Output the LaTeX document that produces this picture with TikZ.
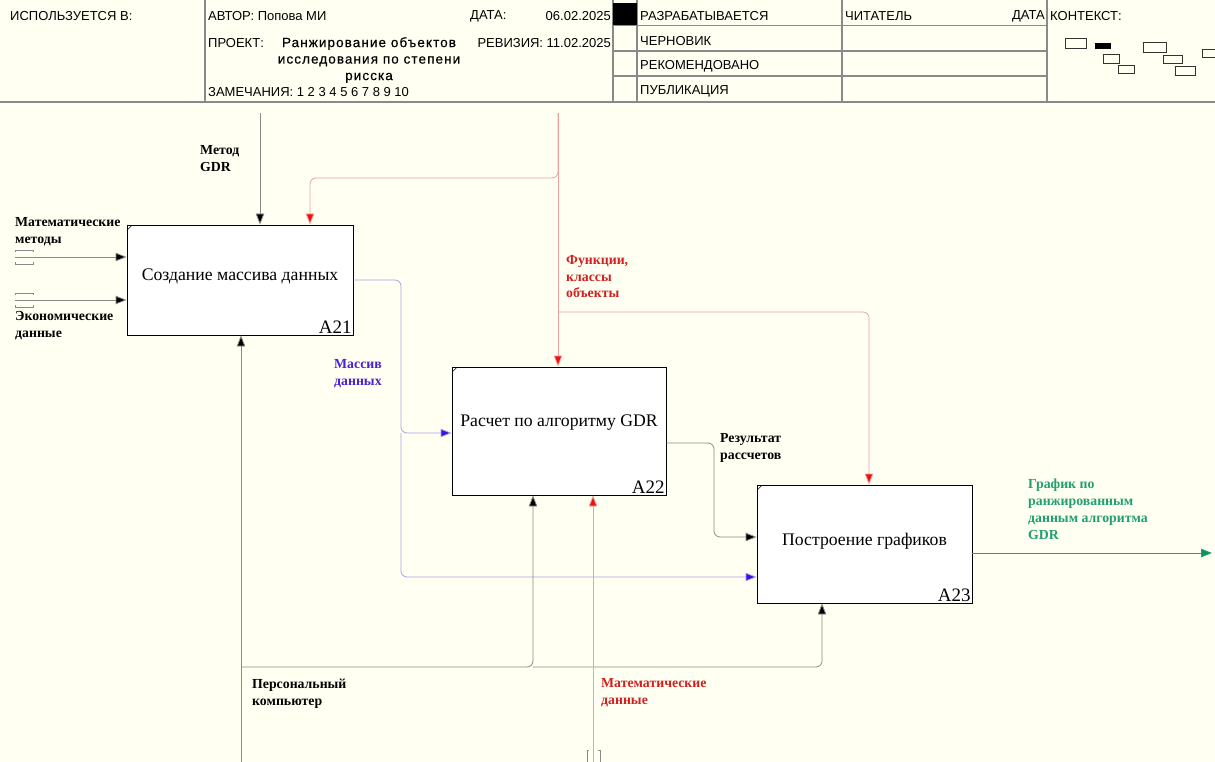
\documentclass[tikz,border=0pt]{standalone}
\usepackage{fontspec}
\setmainfont{Liberation Serif}
\newfontfamily\hdr{Liberation Sans}
\newfontfamily\hdrt{Liberation Sans}[LetterSpace=8, FakeBold=0.4]
\usetikzlibrary{arrows.meta}
\definecolor{bg}{HTML}{FFFFF2}
\definecolor{gline}{HTML}{8A8A8A}
\definecolor{rline}{HTML}{EFA0A0}
\definecolor{rtip}{HTML}{F01010}
\definecolor{rtext}{HTML}{D02020}
\definecolor{bline}{HTML}{A9A0EA}
\definecolor{btip}{HTML}{3A10E0}
\definecolor{btext}{HTML}{4A20D0}
\definecolor{gtext}{HTML}{20A070}
\definecolor{gtip}{HTML}{109060}
\tikzset{
  hline/.style={draw=gline, line width=1.3pt},
  htxt/.style={font=\hdr\fontsize{13}{15}\selectfont, inner sep=0pt, anchor=west},
  funcbox/.style={draw=black, fill=white, line width=0.8pt, inner sep=0pt},
  btxt/.style={font=\fontsize{17.7}{21}\selectfont},
  idtxt/.style={font=\fontsize{19}{21}\selectfont, inner sep=1.5pt, anchor=south east},
  lbl/.style={font=\bfseries\fontsize{13.8}{16.8}\selectfont, align=left, inner sep=0pt, anchor=north west},
  blk/.style={draw=gline, line width=0.8pt, rounded corners=6pt, -{Triangle[length=11pt,width=8.5pt,fill=black]}},
  red/.style={draw=rline, line width=0.8pt, rounded corners=6pt, -{Triangle[length=11pt,width=8.5pt,fill=rtip]}},
  blu/.style={draw=bline, line width=0.8pt, rounded corners=6pt, -{Triangle[length=11pt,width=8.5pt,fill=btip]}},
  grn/.style={draw=gtext, line width=0.8pt, -{Triangle[length=11pt,width=8.5pt,fill=gtip]}},
  tun/.style={draw=gline, line width=0.6pt},
  ctx/.style={draw=black!80, line width=0.8pt}
}
\begin{document}
\begin{tikzpicture}[x=1pt,y=-1pt]
\fill[bg] (0,0) rectangle (1215,762);
\useasboundingbox (0,0) rectangle (1215,762);
% ---------- header ----------
\draw[hline] (0,102) -- (1215,102);
\draw[hline] (205,0) -- (205,101);
\draw[hline] (613,0) -- (613,101);
\draw[hline] (637,0) -- (637,101);
\draw[hline] (842,0) -- (842,101);
\draw[hline] (1047,0) -- (1047,101);
\draw[hline] (613,25.5) -- (1047,25.5);
\draw[hline] (613,51) -- (1047,51);
\draw[hline] (613,76) -- (1047,76);
\fill[black] (613,3) rectangle (637,25);
\node[htxt] (h1) at (10,16) {ИСПОЛЬЗУЕТСЯ В:};
\node[htxt] (h2) at (208,16) {АВТОР: Попова МИ};
\node[htxt] (h3) at (208,43) {ПРОЕКТ:};
\node[font=\hdrt\fontsize{13.5}{16.5}\selectfont, align=center, inner sep=0pt, anchor=north] (h4) at (369,37) {Ранжирование объектов\\исследования по степени\\рисска};
\node[htxt] (h5) at (208,92) {ЗАМЕЧАНИЯ: 1 2 3 4 5 6 7 8 9 10};
\node[htxt] (h6) at (470,16) {ДАТА:};
\node[htxt, anchor=east] (h7) at (611,16) {06.02.2025};
\node[htxt, anchor=east] (h8) at (611,43) {РЕВИЗИЯ: 11.02.2025};
\node[htxt] (h9) at (640,16) {РАЗРАБАТЫВАЕТСЯ};
\node[htxt] (h10) at (640,41) {ЧЕРНОВИК};
\node[htxt] (h11) at (640,66) {РЕКОМЕНДОВАНО};
\node[htxt] (h12) at (640,91) {ПУБЛИКАЦИЯ};
\node[htxt] (h13) at (845,16) {ЧИТАТЕЛЬ};
\node[htxt, anchor=east] (h14) at (1045,16) {ДАТА};
\node[htxt] (h15) at (1050,16) {КОНТЕКСТ:};
\draw[ctx] (1065,38) rectangle (1086,48);
\fill[black] (1095,43) rectangle (1111,49);
\draw[ctx] (1103,54) rectangle (1119,63);
\draw[ctx] (1118,65) rectangle (1134,73);
\draw[ctx] (1143,42) rectangle (1166,52);
\draw[ctx] (1163,55) rectangle (1182,63);
\draw[ctx] (1175,66) rectangle (1195,75);
\draw[ctx] (1202,49) rectangle (1220,57);
% ---------- function boxes ----------
\node[funcbox, minimum width=226pt, minimum height=110pt] (A21) at (240,280) {};
\node[btxt] at (A21.center) [yshift=4pt] (t21) {Создание массива данных};
\node[idtxt] (i21) at (A21.south east) {A21};
\node[funcbox, minimum width=214pt, minimum height=128pt] (A22) at (559,431) {};
\node[btxt] at (A22.center) [yshift=8pt] (t22) {Расчет по алгоритму GDR};
\node[idtxt] (i22) at (A22.south east) {A22};
\node[funcbox, minimum width=215pt, minimum height=118pt] (A23) at (864.5,544) {};
\node[btxt] at (A23.center) [yshift=3pt] (t23) {Построение графиков};
\node[idtxt] (i23) at (A23.south east) {A23};
\foreach \b in {A21,A22,A23}{
  \draw[line width=0.6pt] ([shift={(1,5)}]\b.north west) -- ([shift={(5,1)}]\b.north west);
}
% ---------- coordinates ----------
\coordinate (mtop) at (260,113);
\coordinate (ftop) at (558,113);
\coordinate (fl) at (310,178);
\coordinate (fr) at (869,312);
\coordinate (in1) at (15,257);
\coordinate (in2) at (15,300);
\coordinate (bv) at (401,433);
\coordinate (rv) at (714,443);
\coordinate (out) at (1212,553);
\coordinate (pbot) at (241,762);
\coordinate (pj) at (241,667);
\coordinate (pm) at (533,667);
\coordinate (pr) at (822,667);
\coordinate (mbot) at (593,762);
% ---------- arrows ----------
\draw[blk] (mtop) -- (A21.north -| mtop);
\draw[red] (ftop) -- (ftop |- fl) -- (fl) -- (A21.north -| fl);
\draw[red] (ftop) -- (A22.north -| ftop);
\draw[red] (ftop |- fr) -- (fr) -- (A23.north -| fr);
\draw[blk] (in1) -- (A21.west |- in1);
\draw[blk] (in2) -- (A21.west |- in2);
\draw[blu] (A21.east) -- (bv |- A21.east) -- (bv) -- (A22.west |- bv);
\draw[blu] (bv) -- (401,577) -- (A23.west |- 0,577);
\draw[blk] (A22.east |- rv) -- (rv) -- (714,537) -- (A23.west |- 0,537);
\draw[grn] (A23.east |- out) -- (out);
\draw[blk] (pbot) -- (A21.south -| pbot);
\draw[blk] (pj) -- (pm) -- (A22.south -| pm);
\draw[blk] (pm) -- (pr) -- (A23.south -| pr);
\draw[red] (mbot) -- (A22.south -| mbot);
% tunnels
\foreach \yy in {257,300}{
  \draw[tun] (15,\yy-5) -- (15,\yy-7) -- (33,\yy-7) -- (33,\yy-5);
  \draw[tun] (15,\yy+5) -- (15,\yy+7) -- (33,\yy+7) -- (33,\yy+5);
}
\draw[tun] (589,750) -- (587,750) -- (587,762);
\draw[tun] (598,750) -- (600,750) -- (600,762);
% ---------- labels ----------
\node[lbl] (l1) at (200,145) {Метод\\GDR};
\node[lbl] (l2) at (15,217) {Математические\\методы};
\node[lbl] (l3) at (15,311) {Экономические\\данные};
\node[lbl, text=rtext] (l4) at (566,255) {Функции,\\классы\\объекты};
\node[lbl, text=btext] (l5) at (334,359) {Массив\\данных};
\node[lbl] (l6) at (720,433) {Результат\\рассчетов};
\node[lbl, text=gtext] (l7) at (1028,479) {График по\\ранжированным\\данным алгоритма\\GDR};
\node[lbl] (l8) at (252,679) {Персональный\\компьютер};
\node[lbl, text=rtext] (l9) at (601,678) {Математические\\данные};
\end{tikzpicture}
\end{document}
